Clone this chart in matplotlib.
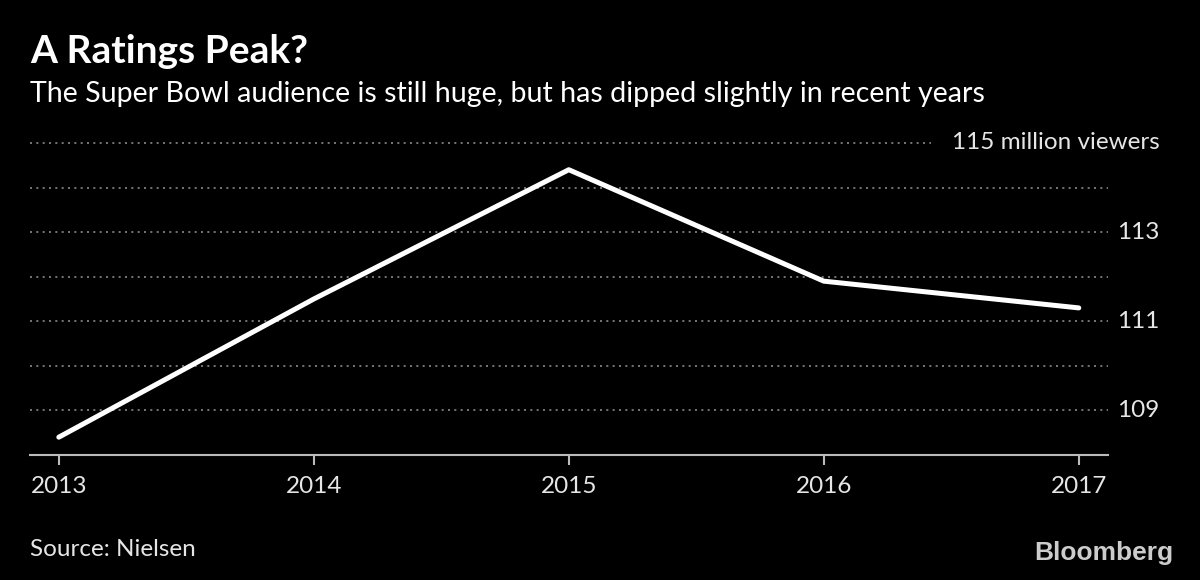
import matplotlib
matplotlib.use("Agg")
import matplotlib.pyplot as plt

years = [2013, 2014, 2015, 2016, 2017]
viewers = [108.4, 111.5, 114.4, 111.9, 111.3]
grid_levels = [109, 110, 111, 112, 113, 114]
label_levels = [109, 111, 113]

BG = "#000000"
TXT = "#e6e6e6"
GRID = "#8a8a8a"
FONT = ["Lato", "DejaVu Sans"]

plt.rcParams["font.family"] = FONT

fig = plt.figure(figsize=(12, 5.8), dpi=100, facecolor=BG)
ax = fig.add_axes([0.025, 0.2155, 0.898, 0.538])
ax.set_facecolor(BG)

ax.set_xlim(2012.887, 2017.113)
ax.set_ylim(108, 115)

for lvl in grid_levels:
    ax.axhline(lvl, color=GRID, lw=1.2, ls=(0, (1.2, 2.6)), zorder=1)
# top gridline stops short of its label
ax.plot([2012.887, 2016.42], [115, 115], color=GRID, lw=1.2, ls=(0, (1.2, 2.6)),
        clip_on=False, zorder=1)

ax.plot(years, viewers, color="white", lw=3.6, solid_capstyle="round", zorder=3)

for s in ["top", "left", "right"]:
    ax.spines[s].set_visible(False)
ax.spines["bottom"].set_color("#bbbbbb")
ax.spines["bottom"].set_linewidth(1.5)

ax.set_xticks(years)
ax.set_xticklabels([str(y) for y in years])
ax.tick_params(axis="x", colors="#bbbbbb", length=7, width=1.5, pad=8,
               labelsize=17.5, labelcolor=TXT)
ax.set_yticks([])

for lvl in label_levels:
    ax.text(1.048, lvl, str(lvl), transform=ax.get_yaxis_transform(),
            ha="right", va="center", fontsize=17.5, color=TXT)
ax.text(1.048, 115, "115 million viewers", transform=ax.get_yaxis_transform(),
        ha="right", va="center", fontsize=17.5, color=TXT)

fig.text(0.025, 1 - 63 / 580, "A Ratings Peak?", ha="left", va="baseline",
         fontsize=28, fontweight="bold", color="white")
fig.text(0.025, 1 - 102 / 580,
         "The Super Bowl audience is still huge, but has dipped slightly in recent years",
         ha="left", va="baseline", fontsize=20.6, color="white")
fig.text(0.025, 1 - 556 / 580, "Source: Nielsen", ha="left", va="baseline",
         fontsize=17.5, color=TXT)
fig.text(0.978, 1 - 560 / 580, "Bloomberg", ha="right", va="baseline",
         fontsize=19, fontweight="bold", color="#cccccc",
         family=["Liberation Sans", "DejaVu Sans"])

fig.savefig("out.png", dpi=100, facecolor=BG)
